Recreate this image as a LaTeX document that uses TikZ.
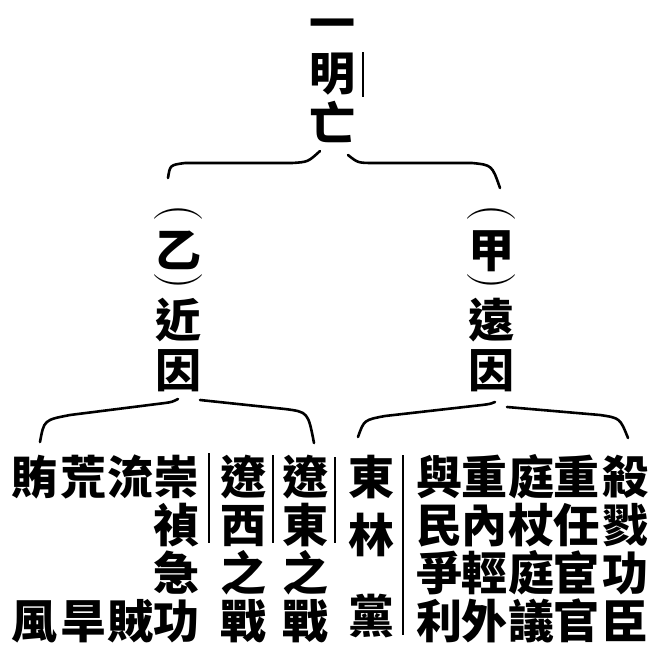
\documentclass[tikz,border=0pt]{standalone}
\usepackage{fontspec}
\newfontfamily\cjk{Noto Sans CJK TC}
\usetikzlibrary{calc}

\begin{document}
\begin{tikzpicture}[x=1pt,y=-1pt,
            chr/.style={
              font=\cjk\bfseries\fontsize{46}{46}\selectfont,
              inner sep=0pt,
              text height=40.5pt,
              text depth=5.5pt
            },
            paren/.style={
              font=\fontsize{48}{48}\selectfont,
              inner sep=0pt,
              rotate=-90
            },
            brace/.style={
              line width=2.6pt,
              line cap=round
            },
            namemark/.style={
              line width=1.6pt
            }
        ]
\useasboundingbox (0,0) rectangle (651,645);
\def\rowy{477}
\def\rowh{48}

% heading
\foreach \c/\y [count=\k] in {一/23, 明/73, 亡/123}
    \node[chr] (ming\k) at (332, \y) {\c};

% second level
\foreach \n/\x/\a/\b in {yi/178/乙/近, jia/491/甲/遠}{
    \node[paren] (\n open) at (\x, 213) {(};
    \node[chr] (\n) at (\x, 250) {\a};
    \node[paren] (\n close) at (\x, 281) {)};
    \node[chr] (\n cause) at (\x, 320) {\b};
    \node[chr] (\n yin) at (\x, 370) {因};
}

% third level
\foreach \n/\x/\col in {huifeng/35/{1/賄,4/風}, huanghan/83/{1/荒,4/旱},
    liuzei/130/{1/流,4/賊}, chongzhen/176/{1/崇,2/禎,3/急,4/功},
    liaoxi/243/{1/遼,2/西,3/之,4/戰}, liaodong/305/{1/遼,2/東,3/之,4/戰},
    donglin/371/{1/東,2.2/林,3.9/黨}, yumin/439/{1/與,2/民,3/爭,4/利},
    zhongnei/484/{1/重,2/內,3/輕,4/外}, tingzhang/531/{1/庭,2/杖,3/庭,4/議},
    zhongren/576/{1/重,2/任,3/宦,4/官}, shalu/625/{1/殺,2/戮,3/功,4/臣}%
}
    \foreach \r/\c [count=\k] in \col
        \node[chr] (\n\k) at (\x, {\rowy+(\r-1)*\rowh}) {\c};

% braces
\coordinate (top left) at (168,178);
\coordinate (top right) at (500,188);
\draw[brace] (top left) .. controls (170,165) .. (185,163) -- (292,163) .. controls (308,162) .. (320,151);
\draw[brace] (348,155) .. controls (358,163) .. (375,163) -- (472,163) .. controls (492,165) .. (top right);

\coordinate (near left) at (40,442);
\coordinate (near right) at (314,443);
\draw[brace] (near left) .. controls (44,420) .. (70,415) -- (165,403) .. controls (172,402) .. (178,399);
\draw[brace] (200,400) -- (285,409) .. controls (308,412) .. (near right);

\coordinate (far left) at (358,437);
\coordinate (far right) at (628,438);
\draw[brace] (far left) .. controls (364,420) .. (385,416) -- (482,405) .. controls (490,404) .. (495,402);
\draw[brace] (507,407) -- (600,415) .. controls (620,418) .. (far right);

% name marks
\foreach \x/\a/\b in {363/52/97, 209/453/543, 273/455/543, 335/457/543, 403/455/635}
    \draw[namemark] (\x, \a) -- (\x, \b);

\end{tikzpicture}
\end{document}
